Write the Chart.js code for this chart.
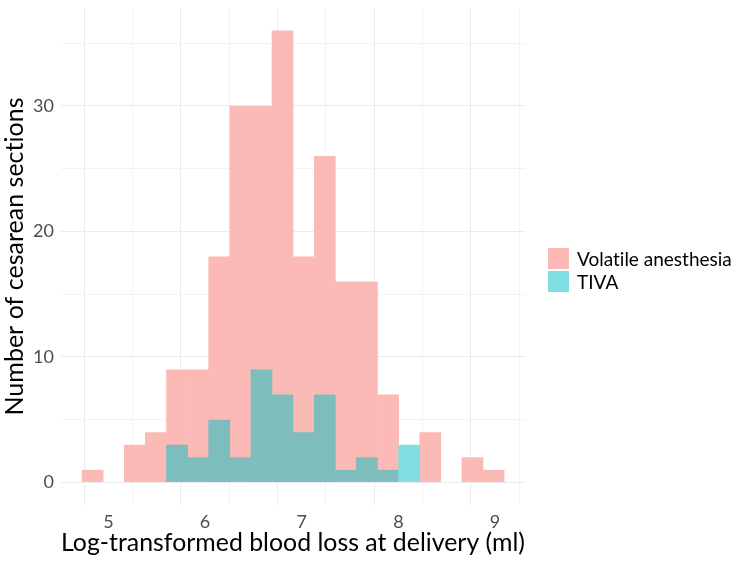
<!DOCTYPE html>
<html><head><meta charset="utf-8">
<script src="https://cdn.jsdelivr.net/npm/chart.js@4.4.0/dist/chart.umd.min.js"></script>
<style>
html,body{margin:0;padding:0;background:#fff;}
#wrap{position:relative;width:750px;height:563px;}
canvas{position:absolute;left:0;top:0;}
#legend{position:absolute;left:548px;top:248px;font-family:Lato,sans-serif;font-size:19px;color:#000;font-variant-ligatures:none;}
.item{display:flex;align-items:center;height:21px;margin-bottom:2px;}
.sw{width:21px;height:21px;margin-right:8px;}
</style></head><body>
<div id="wrap"><canvas id="c" width="750" height="563"></canvas><div id="legend"></div></div>
<script>
const binCenters = [4.837,5.055,5.274,5.492,5.710,5.929,6.147,6.365,6.584,6.802,7.020,7.239,7.457,7.675,7.894,8.112,8.330,8.549,8.767,8.985];
const volatileCounts = [1,0,3,4,9,9,18,30,30,36,18,26,16,16,7,0,4,0,2,1];
const tivaCounts = [0,0,0,0,3,2,5,2,9,7,4,7,1,2,1,3,0,0,0,0];
const xTicks = [4.5,5,5.5,6,6.5,7,7.5,8,8.5,9];
const yTicks = [0,5,10,15,20,25,30,35];
const seriesNames = ['Volatile anesthesia','TIVA'];
// 50% transparent ggplot hues, pre-blended on white (and cyan over pink where they overlap)
const volatileColor = '#FBBAB6';
const tivaColor = '#80DFE2';
const overlapColor = '#7EBDBD';

const FONT = 'Lato, sans-serif';
const gridColor = ctx => (ctx.tick && ctx.tick.value % (ctx.scale.axis === 'x' ? 1 : 10) === 0) ? '#EBEBEB' : '#F3F3F3';

const noLigatures = {
  id: 'noLigatures',
  beforeDraw(chart) { try { chart.ctx.letterSpacing = '0.01px'; } catch (e) {} }
};

new Chart(document.getElementById('c'), {
  type: 'bar',
  plugins: [noLigatures],
  data: {
    datasets: [
      { label: seriesNames[0], data: volatileCounts.map((y,i)=>({x:binCenters[i], y: y || null})), backgroundColor: volatileColor, order: 2 },
      { label: seriesNames[1], data: tivaCounts.map((y,i)=>({x:binCenters[i], y: y || null})),
        backgroundColor: ctx => volatileCounts[ctx.dataIndex] > 0 ? overlapColor : tivaColor, order: 1 }
    ]
  },
  options: {
    responsive: false, animation: false, devicePixelRatio: 1,
    layout: { padding: { top: 8, right: 225, bottom: 0, left: 0 } },
    datasets: { bar: { barPercentage: 1.03, categoryPercentage: 1, grouped: false, borderWidth: 0 } },
    plugins: { legend: { display: false }, tooltip: { enabled: false } },
    scales: {
      x: {
        type: 'linear', min: 4.51, max: 9.31, offset: false,
        afterBuildTicks: s => { s.ticks = xTicks.map(v => ({ value: v })); },
        afterFit: s => { s.height = 58; s.paddingLeft = 0; s.paddingRight = 0; },
        grid: { color: gridColor, lineWidth: 1, drawTicks: false },
        border: { display: false },
        ticks: { callback: v => Number.isInteger(v) ? String(v) : '', color: '#4D4D4D', font: { family: FONT, size: 18 }, padding: 6, maxRotation: 0, autoSkip: false },
        title: { display: true, text: 'Log-transformed blood loss at delivery (ml)', color: '#000', font: { family: FONT, size: 25 }, padding: { top: 0, bottom: 5 } }
      },
      y: {
        type: 'linear', min: -1.8, max: 37.8,
        afterBuildTicks: s => { s.ticks = yTicks.map(v => ({ value: v })); },
        afterFit: s => { s.width = 61; s.paddingTop = 0; s.paddingBottom = 0; },
        grid: { color: gridColor, lineWidth: 1, drawTicks: false },
        border: { display: false },
        ticks: { callback: v => v % 10 === 0 ? String(v) : '', color: '#4D4D4D', font: { family: FONT, size: 18 }, padding: 7, autoSkip: false },
        title: { display: true, text: 'Number of cesarean sections', color: '#000', font: { family: FONT, size: 25 }, padding: { top: 0, bottom: 0 } }
      }
    }
  }
});

const leg = document.getElementById('legend');
[volatileColor, tivaColor].forEach((c,i) => {
  const it = document.createElement('div'); it.className = 'item';
  const sw = document.createElement('div'); sw.className = 'sw'; sw.style.background = c;
  const tx = document.createElement('span'); tx.textContent = seriesNames[i];
  it.appendChild(sw); it.appendChild(tx); leg.appendChild(it);
});
</script>
</body></html>
